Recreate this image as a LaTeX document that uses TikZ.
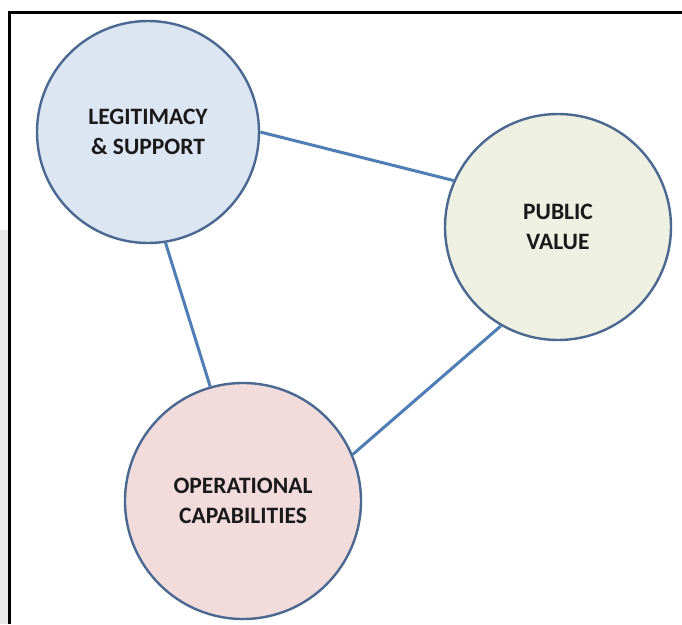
\documentclass[tikz,border=0pt]{standalone}
\usepackage{fontspec}
\setmainfont{Carlito}
\definecolor{ringc}{HTML}{4A6890}
\definecolor{linkc}{HTML}{4F7DB5}
\definecolor{legfill}{HTML}{DCE6F2}
\definecolor{pubfill}{HTML}{EEF0E2}
\definecolor{opfill}{HTML}{F2DCDB}
\tikzset{
  hub/.style={circle, draw=ringc, line width=2.4pt, inner sep=0pt, align=center,
     font=\fontsize{23.5}{30}\selectfont\bfseries, text=black!90},
  link/.style={draw=linkc, line width=3pt},
  frameline/.style={draw=black, line width=3pt}
}
\begin{document}
\begin{tikzpicture}[x=1pt,y=-1pt]
\useasboundingbox (0,0) rectangle (682,624);
\fill[white] (0,0) rectangle (682,624);
\fill[black!9] (0,230) rectangle (8,624);
\coordinate (fa) at (682,12);
\coordinate (fb) at (9.5,12);
\coordinate (fc) at (9.5,624);
\draw[frameline] (fa) -- (fb) -- (fc);
\node[hub, fill=legfill, minimum size=222pt] (L) at (148,132) {LEGITIMACY\\\& SUPPORT};
\node[hub, fill=pubfill, minimum size=226pt] (P) at (558,227) {PUBLIC\\VALUE};
\node[hub, fill=opfill, minimum size=236pt] (O) at (243,501) {OPERATIONAL\\CAPABILITIES};
\draw[link] (L.0) -- (P.156);
\draw[link] (L.279) -- (O.106);
\draw[link] (O.23) -- (P.240);
\end{tikzpicture}
\end{document}
